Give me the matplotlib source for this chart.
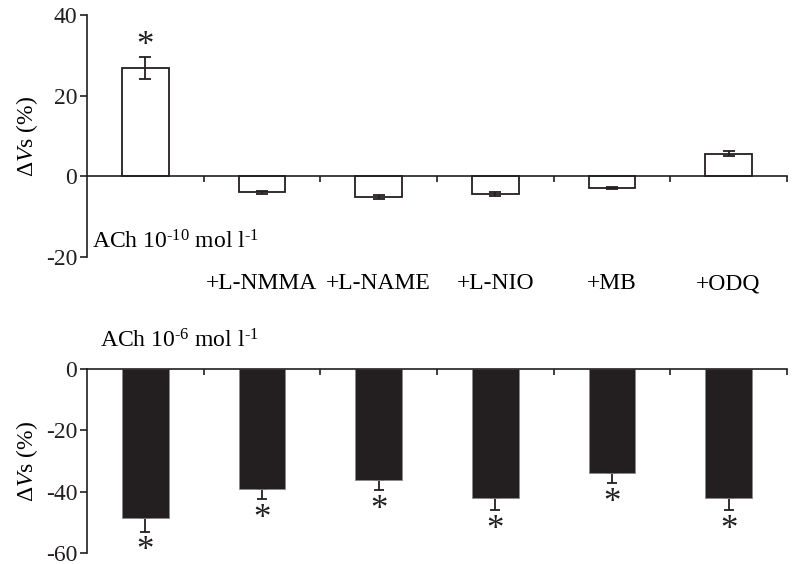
import matplotlib.pyplot as plt
import numpy as np

plt.rcParams['font.family'] = ['Liberation Serif', 'DejaVu Serif']
plt.rcParams['mathtext.fontset'] = 'custom'
plt.rcParams['mathtext.rm'] = 'Liberation Serif'
plt.rcParams['mathtext.it'] = 'Liberation Serif:italic'
plt.rcParams['axes.unicode_minus'] = False

# data
labels = ['', '+L-NMMA', '+L-NAME', '+L-NIO', '+MB', '+ODQ']
low_vals = [26.8, -4.0, -5.1, -4.4, -2.9, 5.6]      # ACh 1e-10
low_err = [2.7, 0.4, 0.4, 0.4, 0.3, 0.6]
low_sig = [True, False, False, False, False, False]
high_vals = [-48.5, -39.0, -36.1, -42.1, -34.0, -42.1]  # ACh 1e-6
high_err = [4.5, 3.5, 3.4, 4.0, 3.2, 4.0]
high_sig = [True, True, True, True, True, True]

fs = 17
x = np.arange(len(labels))
width = 0.4

fig = plt.figure(figsize=(8.04, 5.64), dpi=100)
ax1 = fig.add_axes([0.1082, 0.5443, 0.8706, 0.4291])
ax2 = fig.add_axes([0.1082, 0.0195, 0.8706, 0.3262])

# top panel - open bars
ax1.bar(x, low_vals, width, color='white', edgecolor='#231f20', linewidth=1.3, zorder=2)
ax1.errorbar(x, low_vals, yerr=low_err, fmt='none', ecolor='#231f20',
             elinewidth=1.3, capsize=4.5, capthick=1.3, zorder=3)
for i in range(len(x)):
    if low_sig[i]:
        # star centre sits about 4 units above the error bar
        ax1.text(x[i], low_vals[i] + low_err[i] + 2.6, '*', ha='center', va='center',
                 fontsize=25, color='#231f20')
ax1.set_xlim(-0.5, len(x) - 0.5)
ax1.set_ylim(-20, 40)
ax1.set_yticks([-20, 0, 20, 40])
ax1.set_xticks(x[:-1] + 0.5)
ax1.set_xticks([len(x) - 0.5], minor=True)
ax1.set_xticklabels([])
ax1.spines['bottom'].set_position(('data', 0))
for s in ['top', 'right']:
    ax1.spines[s].set_visible(False)
ax1.text(-0.457, -17.9, r'ACh 10$^{\text{-10}}$ mol l$^{\text{-1}}$', fontsize=fs,
         ha='left', va='baseline')
for i in range(1, len(x)):
    ax1.text(x[i], -26.6, labels[i], ha='center', va='center', fontsize=fs)
ax1.set_ylabel(r'$\Delta\mathit{V}$s (%)', fontsize=fs, labelpad=4)

# bottom panel - filled bars, error bars downward only
ax2.bar(x, high_vals, width, color='#231f20', edgecolor='#8a8a8a', linewidth=0.6, zorder=2)
ax2.errorbar(x, high_vals, yerr=[high_err, np.zeros(len(x))], fmt='none', ecolor='#231f20',
             elinewidth=1.3, capsize=3.3, capthick=1.3, zorder=1)
for i in range(len(x)):
    if high_sig[i]:
        ax2.text(x[i], high_vals[i] - high_err[i] - 6.6, '*', ha='center', va='center',
                 fontsize=25, color='#231f20', clip_on=False)
ax2.set_xlim(-0.5, len(x) - 0.5)
ax2.set_ylim(-60, 0)
ax2.set_yticks([0, -20, -40, -60])
ax2.set_xticks(x[:-1] + 0.5)
ax2.set_xticks([len(x) - 0.5], minor=True)
ax2.set_xticklabels([])
ax2.spines['bottom'].set_position(('data', 0))
for s in ['top', 'right']:
    ax2.spines[s].set_visible(False)
ax2.text(-0.389, 7.15, r'ACh 10$^{\text{-6}}$ mol l$^{\text{-1}}$', fontsize=fs,
         ha='left', va='baseline', clip_on=False)
ax2.set_ylabel(r'$\Delta\mathit{V}$s (%)', fontsize=fs, labelpad=4)

for ax in (ax1, ax2):
    for s in ['left', 'bottom']:
        ax.spines[s].set_linewidth(1.2)
        ax.spines[s].set_color('#231f20')
    ax.tick_params(axis='y', direction='out', length=5, width=1.2, labelsize=fs,
                   pad=2, colors='#231f20')
    ax.tick_params(axis='x', which='both', direction='out', length=4, width=1.2,
                   colors='#231f20')
    ax.patch.set_alpha(0)

fig.savefig('out.png', dpi=100)
